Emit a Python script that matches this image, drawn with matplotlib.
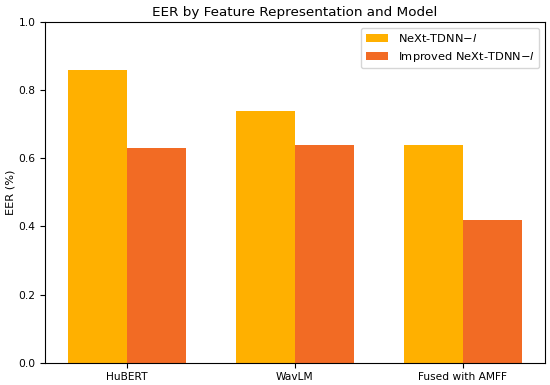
import numpy as np
import matplotlib.pyplot as plt

features = ['HuBERT', 'WavLM', 'Fused with AMFF']
next_tdnn = [0.86, 0.74, 0.64]
improved = [0.63, 0.64, 0.42]

x = np.arange(len(features))
w = 0.35

fig, ax = plt.subplots(figsize=(5.5, 3.85), dpi=100)
ax.bar(x - w/2, next_tdnn, w, color='#FFB000', label='NeXt-TDNN$-l$')
ax.bar(x + w/2, improved, w, color='#F26B24', label='Improved NeXt-TDNN$-l$')

ax.set_xticks(x)
ax.set_xticklabels(features, fontsize=7.7)
ax.tick_params(axis='y', labelsize=7.7)
ax.set_ylim(0, 1.0)
ax.set_ylabel('EER (%)', fontsize=8.2, labelpad=2)
ax.set_title('EER by Feature Representation and Model', fontsize=9.7, pad=4)
ax.legend(fontsize=8.2, loc='upper right')

plt.subplots_adjust(left=0.082, right=0.99, top=0.943, bottom=0.058)
plt.savefig('out.png')
